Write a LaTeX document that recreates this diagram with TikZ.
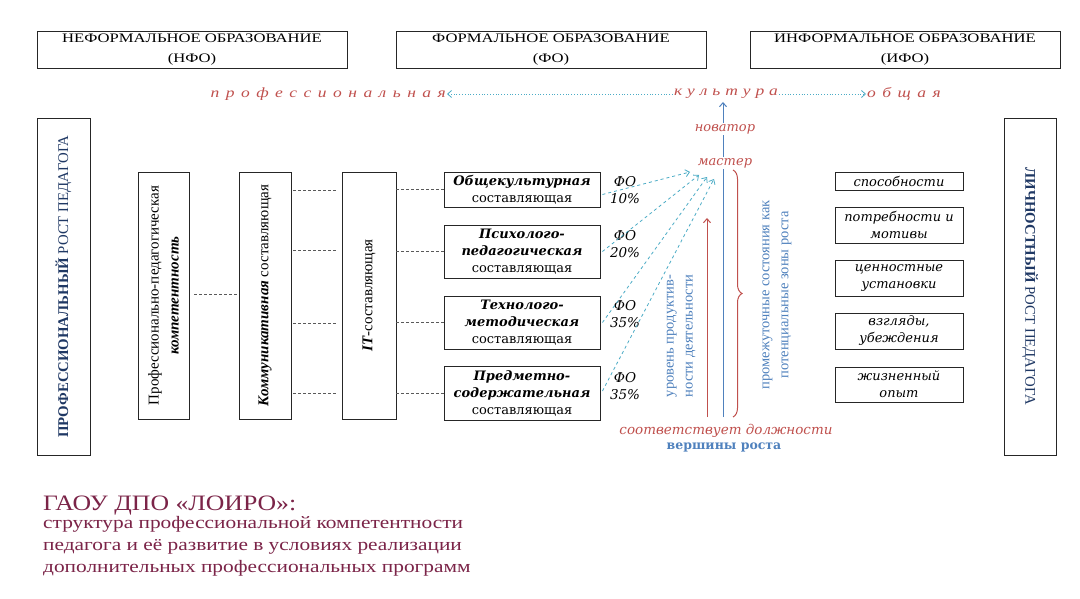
\documentclass[tikz,border=0pt]{standalone}
\usepackage{fontspec}
\setmainfont{Liberation Serif}
\newfontfamily\bk{DejaVu Serif}
\usetikzlibrary{arrows.meta,decorations.pathreplacing}
\definecolor{cred}{HTML}{C0504D}
\definecolor{cblue}{HTML}{4F81BD}
\definecolor{lblue}{HTML}{4BACC6}
\definecolor{dblue}{HTML}{1F3864}
\definecolor{maroon}{HTML}{7B2448}
\begin{document}
\begin{tikzpicture}[x=1pt,y=-1pt,
  box/.style={draw=black!85, line width=0.9pt, inner sep=0pt},
  dl/.style={draw=black!65, line width=0.6pt, dash pattern=on 3pt off 2pt},
  barb/.style={-{Straight Barb[length=4pt,width=7pt]}},
  head/.style={align=center, font=\fontsize{13}{18}\selectfont\addfontfeature{FakeStretch=1.28}},
  cult/.style={text=cred, inner sep=1pt, font=\itshape\fontsize{14}{16}\selectfont\addfontfeature{LetterSpace=15,FakeStretch=1.25}},
  colt/.style={rotate=90, align=center, font=\fontsize{15}{20}\selectfont},
  comp/.style={box, minimum width=156, align=center, font=\bk\fontsize{13}{17}\selectfont},
  pers/.style={box, minimum width=128, align=center, font=\bk\itshape\fontsize{13}{17}\selectfont},
  fo/.style={align=center, font=\bk\itshape\fontsize{13.5}{17}\selectfont},
  rank/.style={text=cred, fill=white, inner sep=1pt, font=\bk\itshape\fontsize{13}{15}\selectfont},
  bluet/.style={text=cblue, align=center, rotate=90, font=\fontsize{14.5}{19}\selectfont},
  big/.style={text=dblue, font=\fontsize{14.8}{18}\selectfont},
  foot/.style={anchor=base west, text=maroon, inner sep=0pt, font=\fontsize{17.5}{22}\selectfont\addfontfeature{FakeStretch=1.22}}
]
\useasboundingbox (0,0) rectangle (1080,599);
\fill[white] (0,0) rectangle (1080,599);

% top boxes
\node[box, minimum width=310, minimum height=37] (nfo) at (192,49.5) {};
\node[head] (nfot) at (nfo) {НЕФОРМАЛЬНОЕ ОБРАЗОВАНИЕ\\[2pt](НФО)};
\node[box, minimum width=310, minimum height=37] (fo) at (551,49.5) {};
\node[head] (fot) at (fo) {ФОРМАЛЬНОЕ ОБРАЗОВАНИЕ\\[2pt](ФО)};
\node[box, minimum width=310, minimum height=37] (ifo) at (905,49.5) {};
\node[head] (ifot) at (ifo) {ИНФОРМАЛЬНОЕ ОБРАЗОВАНИЕ\\[2pt](ИФО)};

% culture line
\node[cult, anchor=east] (prof) at (447,94) {п р о ф е с с и о н а л ь н а я};
\node[cult, font=\itshape\fontsize{14}{16}\selectfont\addfontfeature{LetterSpace=4,FakeStretch=1.25}] (kult) at (726,94) {к у л ь т у р а};
\node[cult, anchor=west] (obsh) at (866,94) {о б щ а я};
\draw[lblue, line width=0.8pt, dotted, barb] (kult.west) -- (prof.east);
\draw[lblue, line width=0.8pt, dotted, barb] (kult.east) -- (obsh.west);

% big side boxes
\node[box, minimum width=53, minimum height=337] (L) at (63.5,286.5) {};
\node[big, rotate=90] (Lt) at (L) {\textbf{ПРОФЕССИОНАЛЬНЫЙ} РОСТ ПЕДАГОГА};
\node[box, minimum width=52, minimum height=337] (R) at (1030,286.5) {};
\node[big, rotate=-90] (Rt) at (R) {\textbf{ЛИЧНОСТНЫЙ} РОСТ ПЕДАГОГА};

% column boxes
\node[box, minimum width=51, minimum height=247] (A) at (163.5,295.5) {};
\node[colt] (At) at (A) {Профессионально-педагогическая\\\textbf{\textit{компетентность}}};
\node[box, minimum width=52, minimum height=247] (B) at (265,295.5) {};
\node[colt] (Bt) at (B) {\textbf{\textit{Коммуникативная}} составляющая};
\node[box, minimum width=54, minimum height=247] (C) at (369,295.5) {};
\node[colt] (Ct) at (C) {\textbf{\textit{IT}}-составляющая};

% component boxes
\node[comp, minimum height=35] (c1) at (522,189.5) {\textbf{\textit{Общекультурная}}\\составляющая};
\node[comp, minimum height=53] (c2) at (522,251.5) {\textbf{\textit{Психолого-}}\\\textbf{\textit{педагогическая}}\\составляющая};
\node[comp, minimum height=53] (c3) at (522,322.5) {\textbf{\textit{Технолого-}}\\\textbf{\textit{методическая}}\\составляющая};
\node[comp, minimum height=54] (c4) at (522,393) {\textbf{\textit{Предметно-}}\\\textbf{\textit{содержательная}}\\составляющая};

% dashed connectors
\draw[dl] ([xshift=5pt]A.east |- 0,294) -- (B.west |- 0,294);
\foreach \yy in {190,250,323,393}{
  \draw[dl] ([xshift=2pt]B.east |- 0,\yy) -- ([xshift=-4pt]C.west |- 0,\yy);
}
\draw[dl] (C.east |- c1) -- (c1.west);
\draw[dl] (C.east |- c2) -- (c2.west);
\draw[dl] (C.east |- c3) -- (c3.west);
\draw[dl] (C.east |- c4) -- (c4.west);

% FO labels
\node[fo] (f1) at (625,190.5) {ФО\\10\%};
\node[fo] (f2) at (625,244) {ФО\\20\%};
\node[fo] (f3) at (625,314) {ФО\\35\%};
\node[fo] (f4) at (625,386) {ФО\\35\%};

% growth axis
\coordinate (vb) at (723,417);
\coordinate (vt) at (723,102);
\coordinate (rb) at (707,417);
\coordinate (rt) at (707,218);
\draw[cblue, line width=1pt, barb] (vb) -- (vt);
\draw[cred, line width=1pt, barb] (rb) -- (rt);
\node[rank] (nov) at (725,129) {новатор};
\node[rank] (mas) at (725,163) {мастер};

% dashed arrows to master
\coordinate (m1) at (690,172);
\coordinate (m2) at (699,175);
\coordinate (m3) at (707,177);
\coordinate (m4) at (714,179);
\draw[lblue, line width=0.8pt, dashed, barb] ([xshift=2pt,yshift=-5pt]c1.east) -- (m1);
\draw[lblue, line width=0.8pt, dashed, barb] ([xshift=2pt]c2.east) -- (m2);
\draw[lblue, line width=0.8pt, dashed, barb] ([xshift=2pt]c3.east) -- (m3);
\draw[lblue, line width=0.8pt, dashed, barb] ([xshift=2pt,yshift=2pt]c4.east) -- (m4);

% brace
\coordinate (bt) at (733,170);
\coordinate (bb) at (733,417);
\draw[cred, line width=1pt, decorate, decoration={brace, amplitude=9pt}] (bt) -- (bb);

% blue rotated texts
\node[bluet] (lev) at (681,336) {уровень продуктив-\\ности деятельности};
\node[bluet] (zone) at (777,295) {промежуточные состояния как\\потенциальные зоны роста};

% bottom labels
\node[text=cred, font=\bk\itshape\fontsize{13.5}{15}\selectfont] (sootv) at (726,431) {соответствует должности};
\node[text=cblue, font=\bk\bfseries\fontsize{12.5}{15}\selectfont] (versh) at (724,447) {вершины роста};

% personal boxes
\node[pers, minimum height=18] (r1) at (899,181) {способности};
\node[pers, minimum height=36] (r2) at (899,225) {потребности и\\мотивы};
\node[pers, minimum height=36] (r3) at (899,278) {ценностные\\установки};
\node[pers, minimum height=36] (r4) at (899,331) {взгляды,\\убеждения};
\node[pers, minimum height=35] (r5) at (899,384.5) {жизненный\\опыт};

% footer
\node[foot, font=\fontsize{22}{24}\selectfont\addfontfeature{FakeStretch=1.17}] (gaou) at (43,510) {ГАОУ ДПО «ЛОИРО»:};
\node[foot] (d1) at (43,528) {структура профессиональной компетентности};
\node[foot] (d2) at (43,550) {педагога и её развитие в условиях реализации};
\node[foot] (d3) at (43,572) {дополнительных профессиональных программ};
\end{tikzpicture}
\end{document}
